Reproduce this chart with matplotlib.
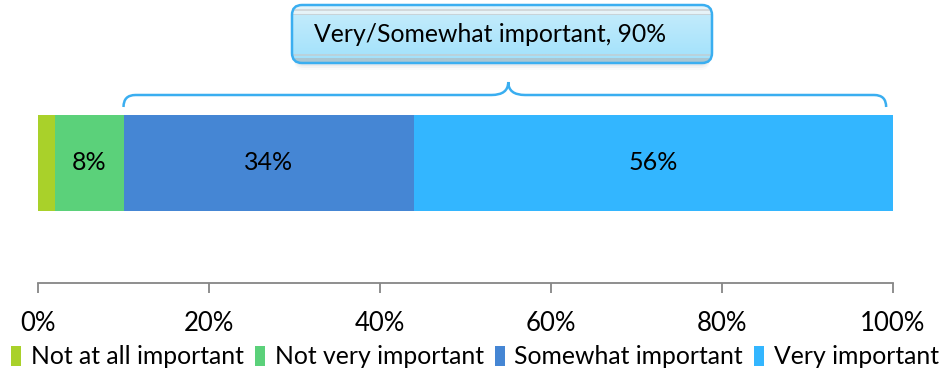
import numpy as np
import matplotlib
matplotlib.use("Agg")
import matplotlib.pyplot as plt
from matplotlib.patches import FancyBboxPatch, Patch
from matplotlib.path import Path
from matplotlib.patches import PathPatch
from matplotlib.colors import to_rgb

plt.rcParams['font.family'] = ['Lato', 'DejaVu Sans']

categories = ["Not at all important", "Not very important",
              "Somewhat important", "Very important"]
values = [2, 8, 34, 56]
colors = ["#A9D12A", "#5BD17A", "#4586D4", "#33B6FF"]
bar_labels = ["", "8%", "34%", "56%"]
tick_values = [0, 20, 40, 60, 80, 100]
tick_labels = ["0%", "20%", "40%", "60%", "80%", "100%"]
callout_text = "Very/Somewhat important, 90%"

W, H = 948, 376
fig = plt.figure(figsize=(W / 100, H / 100), dpi=100)

# main axes: y in pixel units (top = 0)
ax_left, ax_right, ax_bottom = 38, 893, 283
ax = fig.add_axes([ax_left / W, 1 - ax_bottom / H,
                   (ax_right - ax_left) / W, ax_bottom / H])
ax.set_xlim(0, 100)
ax.set_ylim(ax_bottom, 0)

bar_y, bar_h = 163, 96
left = 0
for v, c, lab in zip(values, colors, bar_labels):
    ax.barh(bar_y, v, left=left, height=bar_h, color=c, edgecolor='none')
    if lab:
        ax.text(left + v / 2, bar_y, lab, ha='center', va='center',
                fontsize=18, color='black')
    left += v

for s in ['left', 'right', 'top']:
    ax.spines[s].set_visible(False)
ax.spines['bottom'].set_color('#868686')
ax.spines['bottom'].set_linewidth(1.3)
ax.set_yticks([])
ax.set_xticks(tick_values)
ax.set_xticklabels(tick_labels, fontsize=18.5)
ax.tick_params(axis='x', direction='out', length=7, width=1.3,
               color='#868686', pad=13)

# curly bracket over the "very/somewhat" share
x0 = values[0] + values[1]
x1 = 99.2
xm = (x0 + 100) / 2
yl, yb, yp = 107, 95, 82
px = 100 / (ax_right - ax_left)
rx = 12 * px
verts = [(x0, yl), (x0, yb), (x0 + rx, yb),
         (xm - 1.4 * rx, yb), (xm, yb), (xm, yp),
         (xm, yb), (xm + 1.4 * rx, yb),
         (x1 - rx, yb), (x1, yb), (x1, yl)]
codes = [Path.MOVETO, Path.CURVE3, Path.CURVE3,
         Path.LINETO, Path.CURVE3, Path.CURVE3,
         Path.CURVE3, Path.CURVE3,
         Path.LINETO, Path.CURVE3, Path.CURVE3]
ax.add_patch(PathPatch(Path(verts, codes), facecolor='none',
                       edgecolor='#3AAEF0', linewidth=1.8, clip_on=False))

# callout box (pixel-unit axes)
cx0, cy0, cw, ch = 286, 0, 432, 74
cax = fig.add_axes([cx0 / W, 1 - (cy0 + ch) / H, cw / W, ch / H])
cax.set_xlim(0, cw)
cax.set_ylim(ch, 0)
cax.axis('off')
bx, by, bw, bh = 292 - cx0, 5 - cy0, 420, 58

# soft shadow
for i, a in enumerate([0.10, 0.07, 0.04]):
    cax.add_patch(FancyBboxPatch((bx + 2, by + 3 + i * 2), bw - 4, bh,
                                 boxstyle="round,pad=0,rounding_size=10",
                                 facecolor='#8a9aa4', edgecolor='none',
                                 alpha=a))

box = FancyBboxPatch((bx, by), bw, bh,
                     boxstyle="round,pad=0,rounding_size=10",
                     facecolor='none', edgecolor='#3AAEF0', linewidth=1.8,
                     zorder=3)
cax.add_patch(box)

rows = bh
grad = np.zeros((rows, 2, 3))
top_c, bot_c = np.array(to_rgb('#C8EDFC')), np.array(to_rgb('#A0E1FB'))
for r in range(rows):
    t = r / (rows - 1)
    grad[r, :] = top_c * (1 - t) + bot_c * t
for r in range(0, 4):
    grad[r, :] = to_rgb('#E4F4FA')
for r in (4, 5):
    grad[r, :] = to_rgb('#D2D8DB')
for r in range(6, 9):
    grad[r, :] = to_rgb('#E6F3F8')
for r in (9,):
    grad[r, :] = to_rgb('#C9D3D8')
for r in (rows - 9, rows - 8):
    grad[r, :] = to_rgb('#B9D2DC')
for r in range(rows - 5, rows):
    grad[r, :] = to_rgb('#A9C6D2')
im = cax.imshow(grad, extent=(bx, bx + bw, by + bh, by), aspect='auto',
                interpolation='bilinear', zorder=2)
im.set_clip_path(FancyBboxPatch((bx, by), bw, bh,
                                boxstyle="round,pad=0,rounding_size=10",
                                transform=cax.transData))
cax.text(bx + bw / 2 - 12, by + bh / 2 + 1, callout_text, ha='center',
         va='center', fontsize=17.8, color='black', zorder=4)

# legend
handles = [Patch(facecolor=c, edgecolor='none') for c in colors]
fig.legend(handles, categories, loc='center', ncol=4,
           bbox_to_anchor=(475 / W, 1 - 357 / H), frameon=False,
           fontsize=17.8, handlelength=0.4, handleheight=0.85,
           handletextpad=0.4, columnspacing=0.45, borderaxespad=0)

fig.savefig("out.png", dpi=100)
